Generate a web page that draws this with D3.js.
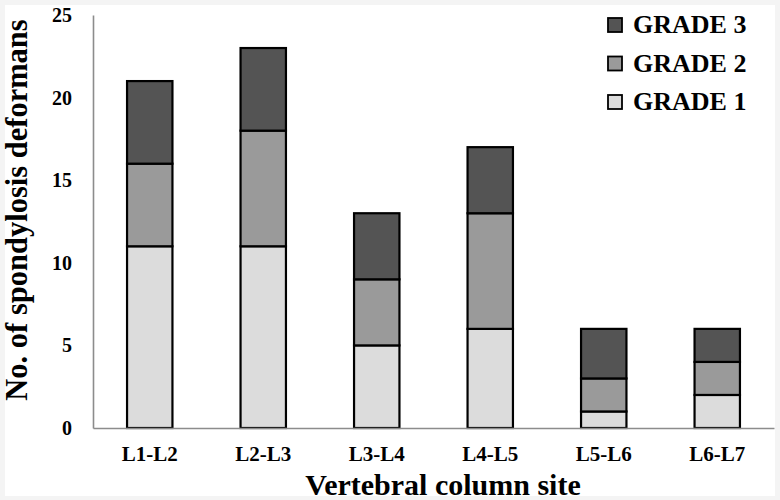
<!DOCTYPE html>
<html>
<head>
<meta charset="utf-8">
<script src="https://cdn.jsdelivr.net/npm/d3@7"></script>
<style>
  body { margin: 0; background: #f4f4f4; }
  svg text { font-family: "Liberation Serif", "Times New Roman", serif; font-weight: bold; fill: #000; }
</style>
</head>
<body>
<div id="chart"></div>
<script>
// data
const sites = ["L1-L2", "L2-L3", "L3-L4", "L4-L5", "L5-L6", "L6-L7"]
const grade1 = [11, 11, 5, 6, 1, 2]
const grade2 = [5, 7, 4, 7, 2, 2]
const grade3 = [5, 5, 4, 4, 3, 2]
const yTicks = [0, 5, 10, 15, 20, 25]
const gradeKeys = ["GRADE 1", "GRADE 2", "GRADE 3"]
const gradeColors = ["#dcdcdc", "#9a9a9a", "#545454"]

const WIDTH = 780
const HEIGHT = 500

const svg = d3.select('#chart').append('svg')
    .attr('width', WIDTH)
    .attr('height', HEIGHT)

// off-white frame round the white picture
svg.append('rect')
    .attr('width', WIDTH)
    .attr('height', HEIGHT)
    .attr('fill', '#f4f4f4')
svg.append('rect')
    .attr('x', 5).attr('y', 5)
    .attr('width', 770).attr('height', 491)
    .attr('fill', '#fff')

const table = sites.map((s, i) => ({
    site: s,
    "GRADE 1": grade1[i],
    "GRADE 2": grade2[i],
    "GRADE 3": grade3[i]
}))

const x = d3.scaleBand()
    .domain(sites)
    .range([93, 774])
    .paddingInner(0.6)
    .paddingOuter(0.3)

const y = d3.scaleLinear()
    .domain([0, 25])
    .range([428, 15])

const color = d3.scaleOrdinal(gradeKeys, gradeColors)

const stacked = d3.stack().keys(gradeKeys)(table)

//____BARS____//
svg.append('g')
    .attr('class', 'bars')
    .selectAll('g')
    .data(stacked)
    .join('g')
    .attr('fill', d => color(d.key))
    .selectAll('rect')
    .data(d => d)
    .join('rect')
    .attr('x', d => x(d.data.site))
    .attr('y', d => y(d[1]))
    .attr('width', x.bandwidth())
    .attr('height', d => y(d[0]) - y(d[1]))
    .attr('stroke', '#000')
    .attr('stroke-width', 2.2)

//____AXES____//
const yAxis = svg.append('g')
    .attr('transform', 'translate(93,0)')
    .call(d3.axisLeft(y).tickValues(yTicks).tickSize(0).tickPadding(21))
yAxis.select('.domain').attr('stroke', '#8c8c8c').attr('stroke-width', 1.6)
yAxis.selectAll('text').style('font-size', '20px')

const xAxis = svg.append('g')
    .attr('transform', 'translate(0,428)')
    .call(d3.axisBottom(x).tickSize(0).tickPadding(18))
xAxis.select('.domain').attr('stroke', '#8c8c8c').attr('stroke-width', 1.6)
xAxis.selectAll('text').style('font-size', '21px')

svg.append('text')
    .attr('x', 443)
    .attr('y', 495)
    .attr('text-anchor', 'middle')
    .style('font-size', '30px')
    .text('Vertebral column site')

svg.append('text')
    .attr('transform', 'translate(27,210) rotate(-90)')
    .attr('text-anchor', 'middle')
    .style('font-size', '30.5px')
    .text('No. of spondylosis deformans')

//____LEGEND____//
const legend = svg.append('g')
    .attr('class', 'legend')
    .selectAll('g')
    .data(gradeKeys.slice().reverse())
    .join('g')
    .attr('transform', (d, i) => `translate(608,${18 + i * 38.5})`)

legend.append('rect')
    .attr('width', 14)
    .attr('height', 14)
    .attr('fill', d => color(d))
    .attr('stroke', '#000')
    .attr('stroke-width', 1.8)

legend.append('text')
    .attr('x', 25)
    .attr('y', 15)
    .style('font-size', '26px')
    .text(d => d)
</script>
</body>
</html>
